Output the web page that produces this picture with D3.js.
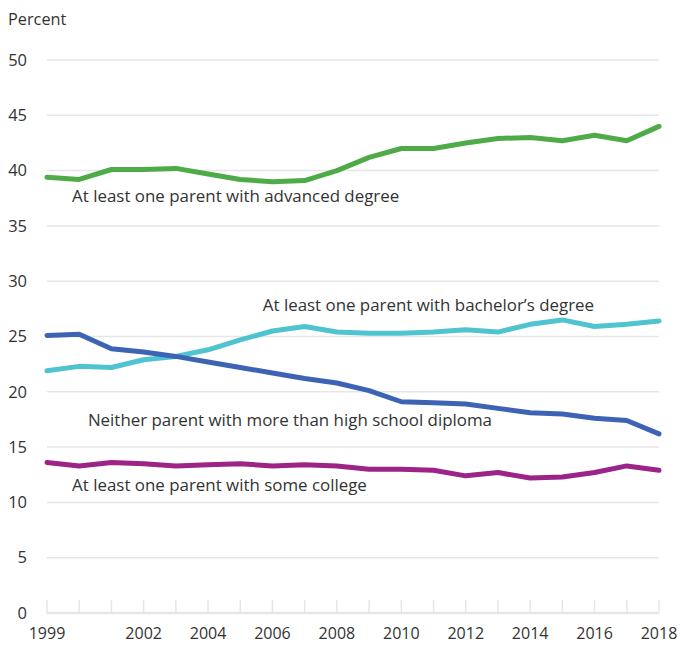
<!DOCTYPE html>
<meta charset="utf-8">
<html>
  <head>
    <style>
      body { margin: 0; background: #fff; }
      text { font-family: "Open Sans", "Noto Sans", sans-serif; fill: #333; }
      .grid line { stroke: #e6e6e6; stroke-width: 1.5px; }
      .series { fill: none; stroke-width: 5px; stroke-linejoin: round; stroke-linecap: round; }
    </style>
    <script src="https://d3js.org/d3.v7.min.js"></script>
  </head>
  <body>
<div id="chart"></div>
<script>
// data
var years = [1999, 2000, 2001, 2002, 2003, 2004, 2005, 2006, 2007, 2008,
             2009, 2010, 2011, 2012, 2013, 2014, 2015, 2016, 2017, 2018];
var advanced = [39.4, 39.2, 40.1, 40.1, 40.2, 39.7, 39.2, 39.0, 39.1, 40.0,
                41.2, 42.0, 42.0, 42.5, 42.9, 43.0, 42.7, 43.2, 42.7, 44.0];
var bachelors = [21.9, 22.3, 22.2, 22.9, 23.2, 23.8, 24.7, 25.5, 25.9, 25.4,
                 25.3, 25.3, 25.4, 25.6, 25.4, 26.1, 26.5, 25.9, 26.1, 26.4];
var highSchool = [25.1, 25.2, 23.9, 23.6, 23.2, 22.7, 22.2, 21.7, 21.2, 20.8,
                  20.1, 19.1, 19.0, 18.9, 18.5, 18.1, 18.0, 17.6, 17.4, 16.2];
var someCollege = [13.6, 13.3, 13.6, 13.5, 13.3, 13.4, 13.5, 13.3, 13.4, 13.3,
                   13.0, 13.0, 12.9, 12.4, 12.7, 12.2, 12.3, 12.7, 13.3, 12.9];
var yTicks = [0, 5, 10, 15, 20, 25, 30, 35, 40, 45, 50];
var xTickLabels = [1999, 2002, 2004, 2006, 2008, 2010, 2012, 2014, 2016, 2018];

var series = [
  {name: "At least one parent with advanced degree", values: advanced, color: "#4fab48", lx: 1999.78, ly: 37.2},
  {name: "At least one parent with bachelor\u2019s degree", values: bachelors, color: "#4fc4d0", lx: 2005.7, ly: 27.3},
  {name: "Neither parent with more than high school diploma", values: highSchool, color: "#3d64b4", lx: 2000.27, ly: 16.9},
  {name: "At least one parent with some college", values: someCollege, color: "#9c2387", lx: 1999.78, ly: 11.0}
];

var W = 680, H = 645;
var margin = {top: 60, right: 21, bottom: 32, left: 47};

var svg = d3.select("#chart").append("svg")
  .attr("width", W)
  .attr("height", H);

var x = d3.scaleLinear().domain([1999, 2018]).range([margin.left, W - margin.right]);
var y = d3.scaleLinear().domain([0, 50]).range([H - margin.bottom, margin.top]);

// horizontal gridlines
svg.append("g")
  .attr("class", "grid")
  .selectAll("line")
  .data(yTicks)
  .enter().append("line")
    .attr("x1", x(1999))
    .attr("x2", x(2018))
    .attr("y1", function(d) { return y(d); })
    .attr("y2", function(d) { return y(d); })
    .style("stroke-width", function(d) { return d === 0 ? 2.5 : 1.5; });

// y labels
svg.append("g")
  .selectAll("text")
  .data(yTicks)
  .enter().append("text")
    .attr("x", 27)
    .attr("y", function(d) { return y(d); })
    .attr("dy", "0.35em")
    .style("text-anchor", "end")
    .style("font-size", "16.5px")
    .text(function(d) { return d; });

svg.append("text")
  .attr("x", 8)
  .attr("y", 25)
  .style("font-size", "16.3px")
  .text("Percent");

// year ticks pointing up from the baseline
svg.append("g")
  .selectAll("line")
  .data(years)
  .enter().append("line")
    .attr("x1", function(d) { return x(d); })
    .attr("x2", function(d) { return x(d); })
    .attr("y1", y(0))
    .attr("y2", y(0) - 13)
    .style("stroke", "#e6e6e6")
    .style("stroke-width", 1.5);

svg.append("g")
  .selectAll("text")
  .data(xTickLabels)
  .enter().append("text")
    .attr("x", function(d) { return x(d); })
    .attr("y", H - 6)
    .style("text-anchor", "middle")
    .style("font-size", "16px")
    .text(function(d) { return d; });

var line = d3.line()
  .x(function(d, i) { return x(years[i]); })
  .y(function(d) { return y(d); });

svg.selectAll("path.series")
  .data(series)
  .enter().append("path")
    .attr("class", "series")
    .attr("d", function(d) { return line(d.values); })
    .style("stroke", function(d) { return d.color; });

svg.selectAll("text.lab")
  .data(series)
  .enter().append("text")
    .attr("class", "lab")
    .attr("x", function(d) { return x(d.lx); })
    .attr("y", function(d) { return y(d.ly); })
    .style("font-size", "16.9px")
    .text(function(d) { return d.name; });
</script>
</body>
</html>
